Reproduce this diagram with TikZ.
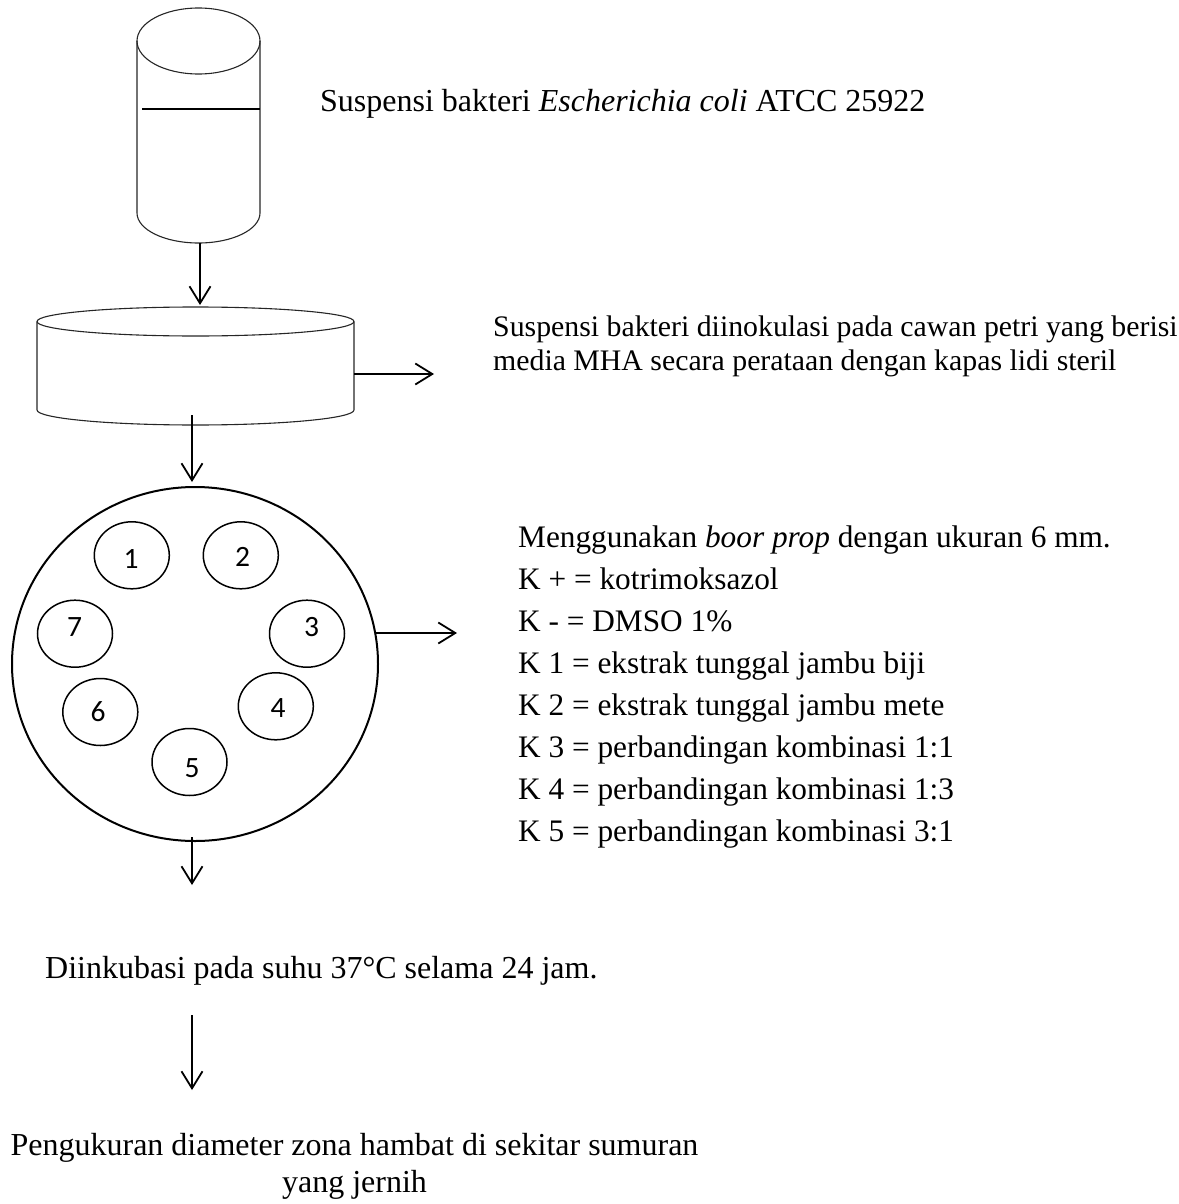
\documentclass[tikz,border=0pt]{standalone}
\usepackage{fontspec}
\setmainfont{Liberation Serif}
\newfontfamily\wellfont{Carlito}
\usetikzlibrary{arrows.meta,shapes.geometric}
\begin{document}
\begin{tikzpicture}[x=1pt,y=-1pt,
  arr/.style={line width=1.8pt,-{Straight Barb[length=17pt,width=21pt,line width=1.8pt]}},
  thin outline/.style={line width=1.1pt,black!85},
  txt/.style={inner sep=0pt,font=\fontsize{32}{42}\selectfont},
  welltxt/.style={inner sep=0pt,font=\wellfont\fontsize{29.5}{30}\selectfont},
  well/.style={ellipse,draw,line width=1.5pt,minimum width=75pt,minimum height=67pt,inner sep=0pt}]
\useasboundingbox (0,0) rectangle (1178,1204);

% ---- tube ----
\draw[thin outline] (198.5,41) ellipse [x radius=61.5, y radius=33];
\draw[thin outline] (137,41) -- (137,213) arc[start angle=180,end angle=0,x radius=61.5,y radius=30] -- (260,41);
\draw[line width=2pt] (142,109) -- (260,109);
\coordinate (tubebot) at (200,243);
\coordinate (dishtop) at (200,305);

% ---- petri dish (side view) ----
\draw[thin outline] (195.5,321.5) ellipse [x radius=158.5, y radius=14.5];
\draw[thin outline] (37,321.5) -- (37,410) arc[start angle=180,end angle=0,x radius=158.5,y radius=15] -- (354,321.5);
\coordinate (dishright) at (354,374);
\coordinate (dishrightend) at (434,374);
\coordinate (dishbot) at (192,415);
\coordinate (platetop) at (192,482);

% ---- plate (top view) with wells ----
\node[ellipse,draw,line width=2pt,minimum width=366pt,minimum height=354pt,inner sep=0pt] (plate) at (195,664) {};
\node[well] (w1) at (131.8,555.3) {};
\node[well] (w2) at (240.8,555.3) {};
\node[well] (w3) at (307,633.7) {};
\node[well] (w4) at (275.8,706.3) {};
\node[well] (w5) at (189.5,762) {};
\node[well] (w6) at (100.3,712) {};
\node[well] (w7) at (75,633.7) {};
\node[welltxt] (l1) at (131,559) {1};
\node[welltxt] (l2) at (242.5,556.7) {2};
\node[welltxt] (l3) at (311.7,626.7) {3};
\node[welltxt] (l4) at (278,707.8) {4};
\node[welltxt] (l5) at (192,767.7) {5};
\node[welltxt] (l6) at (98,711.7) {6};
\node[welltxt] (l7) at (74.7,626.7) {7};
\coordinate (plateright) at (376,633);
\coordinate (platerightend) at (457,633);
\coordinate (platebot) at (192,837);
\coordinate (platebotend) at (192,885);
\coordinate (incbot) at (192,1015);
\coordinate (incbotend) at (192,1090);

% ---- texts ----
\node[txt,anchor=base west] (t1) at (320,112) {Suspensi bakteri \textit{Escherichia coli} ATCC 25922};
\node[txt,anchor=north west,align=left,font=\fontsize{29.8}{34}\selectfont] (t2) at (493,312.2)
  {\strut Suspensi bakteri diinokulasi pada cawan petri yang berisi\\media MHA secara perataan dengan kapas lidi steril};
\node[txt,anchor=north west,align=left,font=\fontsize{31.3}{42}\selectfont] (t3) at (518,517.6)
  {\strut Menggunakan \textit{boor prop} dengan ukuran 6 mm.\\
   K + = kotrimoksazol\\
   K - = DMSO 1\%\\
   K 1 = ekstrak tunggal jambu biji\\
   K 2 = ekstrak tunggal jambu mete\\
   K 3 = perbandingan kombinasi 1:1\\
   K 4 = perbandingan kombinasi 1:3\\
   K 5 = perbandingan kombinasi 3:1};
\node[txt,anchor=base west] (t4) at (45,978) {Diinkubasi pada suhu 37°C selama 24 jam.};
\node[txt,anchor=north,align=center,font=\fontsize{32}{37}\selectfont] (t5) at (354.5,1129.1)
  {\strut Pengukuran diameter zona hambat di sekitar sumuran\\yang jernih};

% ---- arrows ----
\draw[arr] (tubebot) -- (dishtop);
\draw[arr] (dishright) -- (dishrightend);
\draw[arr] (dishbot) -- (platetop);
\draw[arr] (plateright) -- (platerightend);
\draw[arr] (platebot) -- (platebotend);
\draw[arr] (incbot) -- (incbotend);
\end{tikzpicture}
\end{document}
